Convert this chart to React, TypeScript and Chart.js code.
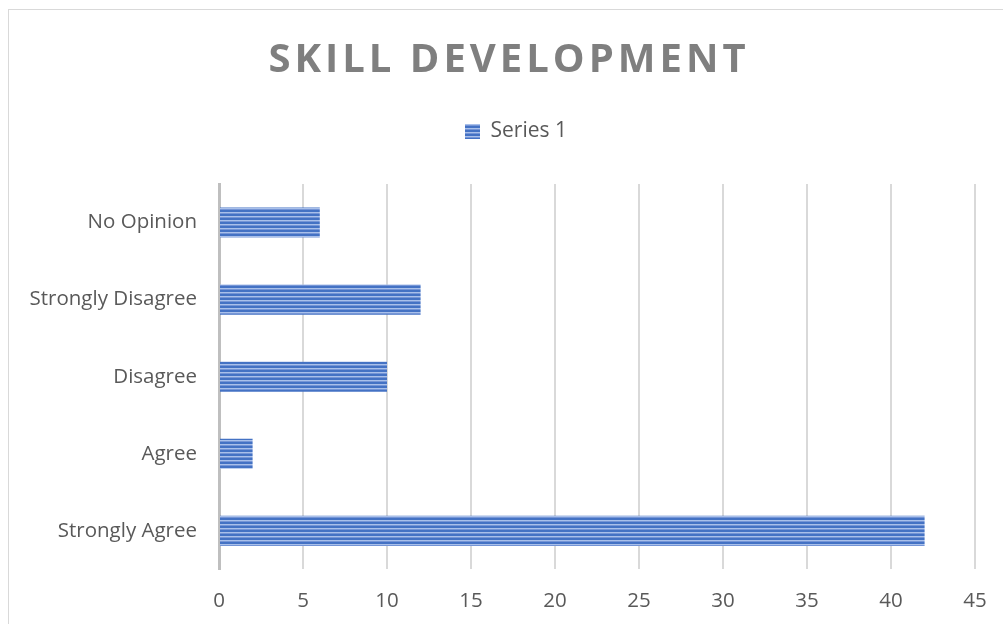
import React, { useEffect, useRef } from "react";
import { Chart, registerables } from "chart.js";

Chart.register(...registerables);

const categories = ["No Opinion", "Strongly Disagree", "Disagree", "Agree", "Strongly Agree"];
const series1 = [6, 12, 10, 2, 42];
const seriesName = "Series 1";
const titleText = "SKILL DEVELOPMENT";
const xTicks = [0, 5, 10, 15, 20, 25, 30, 35, 40, 45];

function makeStripePattern(): CanvasPattern | string {
  const c = document.createElement("canvas");
  c.width = 4;
  c.height = 4;
  const g = c.getContext("2d");
  if (!g) return "#4472C4";
  g.fillStyle = "#4472C4";
  g.fillRect(0, 0, 4, 2);
  g.fillStyle = "#A9C0EA";
  g.fillRect(0, 2, 4, 1);
  g.fillStyle = "#7595D6";
  g.fillRect(0, 3, 4, 1);
  const p = g.createPattern(c, "repeat");
  return p || "#4472C4";
}

const FONT = "'Open Sans', 'Noto Sans', sans-serif";

export default function App() {
  const ref = useRef<HTMLCanvasElement | null>(null);

  useEffect(() => {
    document.body.style.overflow = "hidden";
    if (!ref.current) return;
    const pattern = makeStripePattern();

    const shiftPlugin = {
      id: "shiftBlocks",
      beforeDraw(chart: any) {
        const tb = chart.titleBlock;
        if (tb && !tb.__patched) {
          const orig = tb.draw.bind(tb);
          tb.draw = function () {
            const ctx = this.ctx;
            ctx.save();
            ctx.translate(17, 0);
            (ctx as any).letterSpacing = "4px";
            orig();
            ctx.restore();
          };
          tb.__patched = true;
        }
        const lg = chart.legend;
        if (lg && !lg.__patched) {
          const origL = lg.draw.bind(lg);
          lg.draw = function () {
            const ctx = this.ctx;
            ctx.save();
            ctx.translate(24, 0);
            origL();
            ctx.restore();
          };
          lg.__patched = true;
        }
      },
    };

    const legendGapPlugin = {
      id: "legendGap",
      beforeInit(chart: any) {
        const legend = chart.legend;
        if (legend) {
          const origFit = legend.fit;
          legend.fit = function () {
            origFit.call(this);
            this.height += 32;
          };
        }
      },
    };

    const chart = new Chart(ref.current, {
      type: "bar",
      data: {
        labels: categories,
        datasets: [
          {
            label: seriesName,
            data: series1,
            backgroundColor: pattern as any,
            borderWidth: 0,
            categoryPercentage: 1,
            barPercentage: 0.39,
          },
        ],
      },
      options: {
        indexAxis: "y",
        animation: false,
        responsive: false,
        devicePixelRatio: 1,
        layout: { padding: { top: 27, right: 34, left: 0, bottom: 0 } },
        plugins: {
          title: {
            display: true,
            text: titleText,
            color: "#7F7F7F",
            font: { family: FONT, size: 40, weight: "bold" },
            padding: { top: 0, bottom: 28 },
          },
          legend: {
            display: true,
            position: "top",
            labels: {
              color: "#595959",
              font: { family: FONT, size: 21 },
              boxWidth: 15,
              boxHeight: 15,
              padding: 8,
            },
          },
          tooltip: { enabled: false },
        },
        scales: {
          x: {
            min: 0,
            max: 45,
            ticks: {
              stepSize: 5,
              color: "#595959",
              font: { family: FONT, size: 20.5 },
              padding: 19,
              callback: (v: any) => (xTicks.includes(Number(v)) ? String(v) : ""),
            },
            grid: { color: "#D9D9D9", lineWidth: 2, drawTicks: false },
            border: { display: false },
          },
          y: {
            afterFit(scale: any) {
              scale.width = 210;
            },
            ticks: {
              color: "#595959",
              font: { family: FONT, size: 20.5 },
              padding: 22,
            },
            grid: { display: false, drawTicks: false },
            border: { display: true, color: "#BFBFBF", width: 3 },
          },
        },
      },
      plugins: [shiftPlugin, legendGapPlugin],
    });
    return () => chart.destroy();
  }, []);

  return (
    <div
      style={{
        position: "absolute",
        left: 8,
        top: 9,
        width: 1010,
        height: 630,
        border: "1px solid #D9D9D9",
        background: "#fff",
      }}
    >
      <canvas ref={ref} width={1000} height={622} style={{ display: "block" }} />
    </div>
  );
}
